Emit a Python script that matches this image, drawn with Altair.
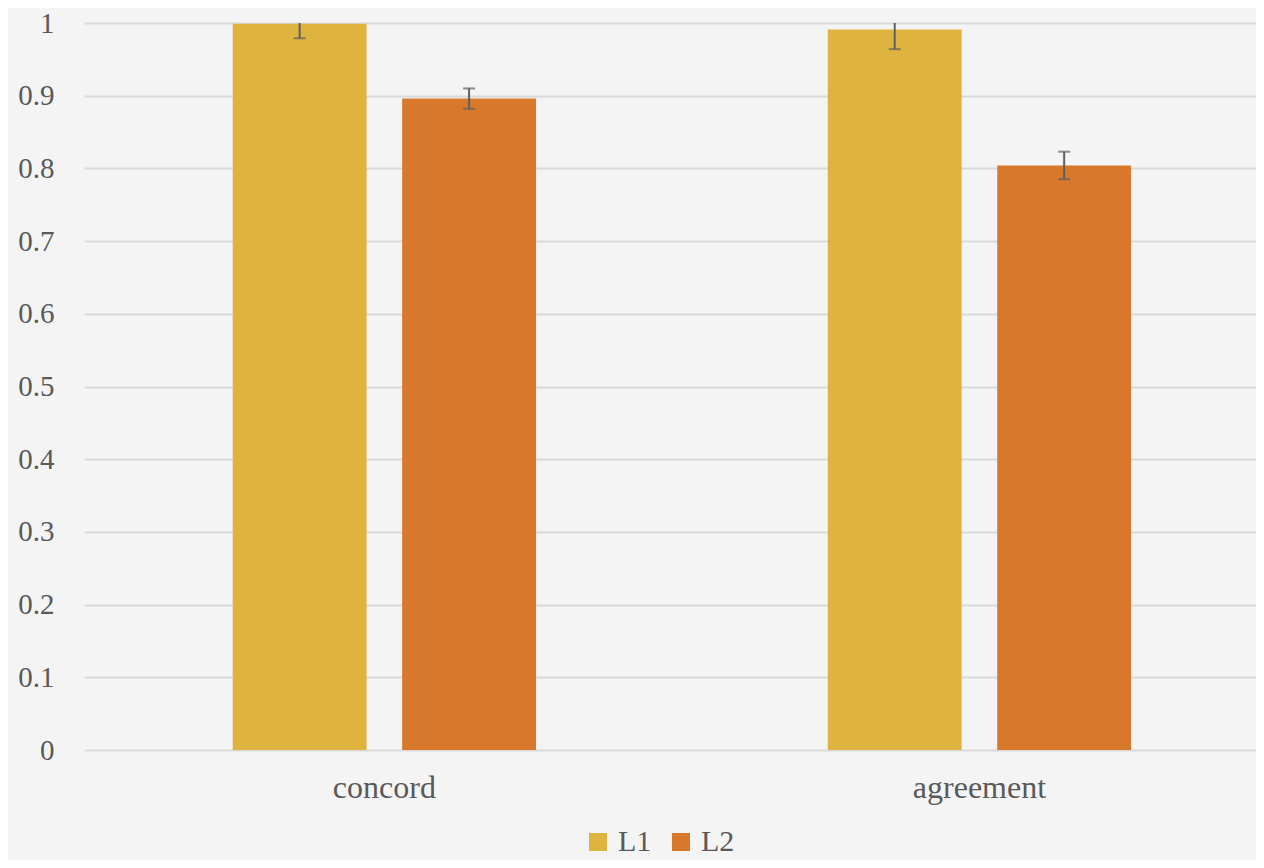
import altair as alt
import pandas as pd

categories = ["concord", "agreement"]
groups = ["L1", "L2"]
l1_values = [0.999, 0.991]
l2_values = [0.896, 0.804]
l1_errors = [0.020, 0.027]
l2_errors = [0.014, 0.019]
y_ticks = [0, 0.1, 0.2, 0.3, 0.4, 0.5, 0.6, 0.7, 0.8, 0.9, 1]
colors = ["#DEB340", "#D8782A"]

rows = []
for i, c in enumerate(categories):
    for g, vals, errs in (("L1", l1_values, l1_errors), ("L2", l2_values, l2_errors)):
        v, e = vals[i], errs[i]
        rows.append({"category": c, "group": g, "value": v,
                     "lo": v - e, "hi": min(1.0, v + e)})
df = pd.DataFrame(rows)

FONT = "Liberation Serif"
TXT = "#595959"

x = alt.X("category:N", sort=categories, title=None,
          scale=alt.Scale(paddingInner=0.4305, paddingOuter=0.2, align=0.55),
          axis=alt.Axis(labelAngle=0, labelFont=FONT, labelFontSize=32,
                        labelColor=TXT, ticks=False, domain=False,
                        labelPadding=22, grid=False))
xo = alt.XOffset("group:N", sort=groups,
                 scale=alt.Scale(paddingInner=0.21, paddingOuter=0.105))

bars = alt.Chart(df).mark_bar().encode(
    x=x, xOffset=xo,
    y=alt.Y("value:Q", title=None,
            scale=alt.Scale(domain=[0, 1], nice=False),
            axis=alt.Axis(values=y_ticks, labelFont=FONT, labelFontSize=29,
                          labelColor=TXT, ticks=False, domain=False,
                          labelPadding=30, gridColor="#d9d9d9", gridWidth=2,
                          labelExpr="datum.value == 0 ? '0' : format(datum.value, '.1~f')")),
    color=alt.Color("group:N", sort=groups, title=None,
                    scale=alt.Scale(domain=groups, range=colors),
                    legend=alt.Legend(orient="none", direction="horizontal",
                                      legendX=499, legendY=804,
                                      symbolType="square", symbolSize=324,
                                      symbolStrokeWidth=0, symbolOpacity=1,
                                      labelFont=FONT, labelFontSize=30,
                                      labelColor=TXT, labelOffset=5,
                                      columnPadding=14)),
)

err = alt.Chart(df).mark_rule(color="#5f5f5f", strokeWidth=2, clip=True).encode(
    x=x, xOffset=xo,
    y=alt.Y("lo:Q"), y2="hi:Q",
)

caps_lo = alt.Chart(df).mark_tick(color="#5f5f5f", thickness=2, size=12, orient="horizontal").encode(
    x=x, xOffset=xo, y=alt.Y("lo:Q"),
)
caps_hi = alt.Chart(df).transform_filter("datum.hi < 1").mark_tick(
    color="#5f5f5f", thickness=2, size=12, orient="horizontal").encode(
    x=x, xOffset=xo, y=alt.Y("hi:Q"),
)

chart = alt.layer(bars, err, caps_lo, caps_hi).properties(
    width=1172, height=727,
    background="#f4f4f4",
    padding={"left": 76, "top": 15, "right": 0, "bottom": 110},
    autosize=alt.AutoSizeParams(type="none"),
).configure_view(stroke=None)

chart.save("out.html", embed_options={"renderer": "svg", "actions": False})
